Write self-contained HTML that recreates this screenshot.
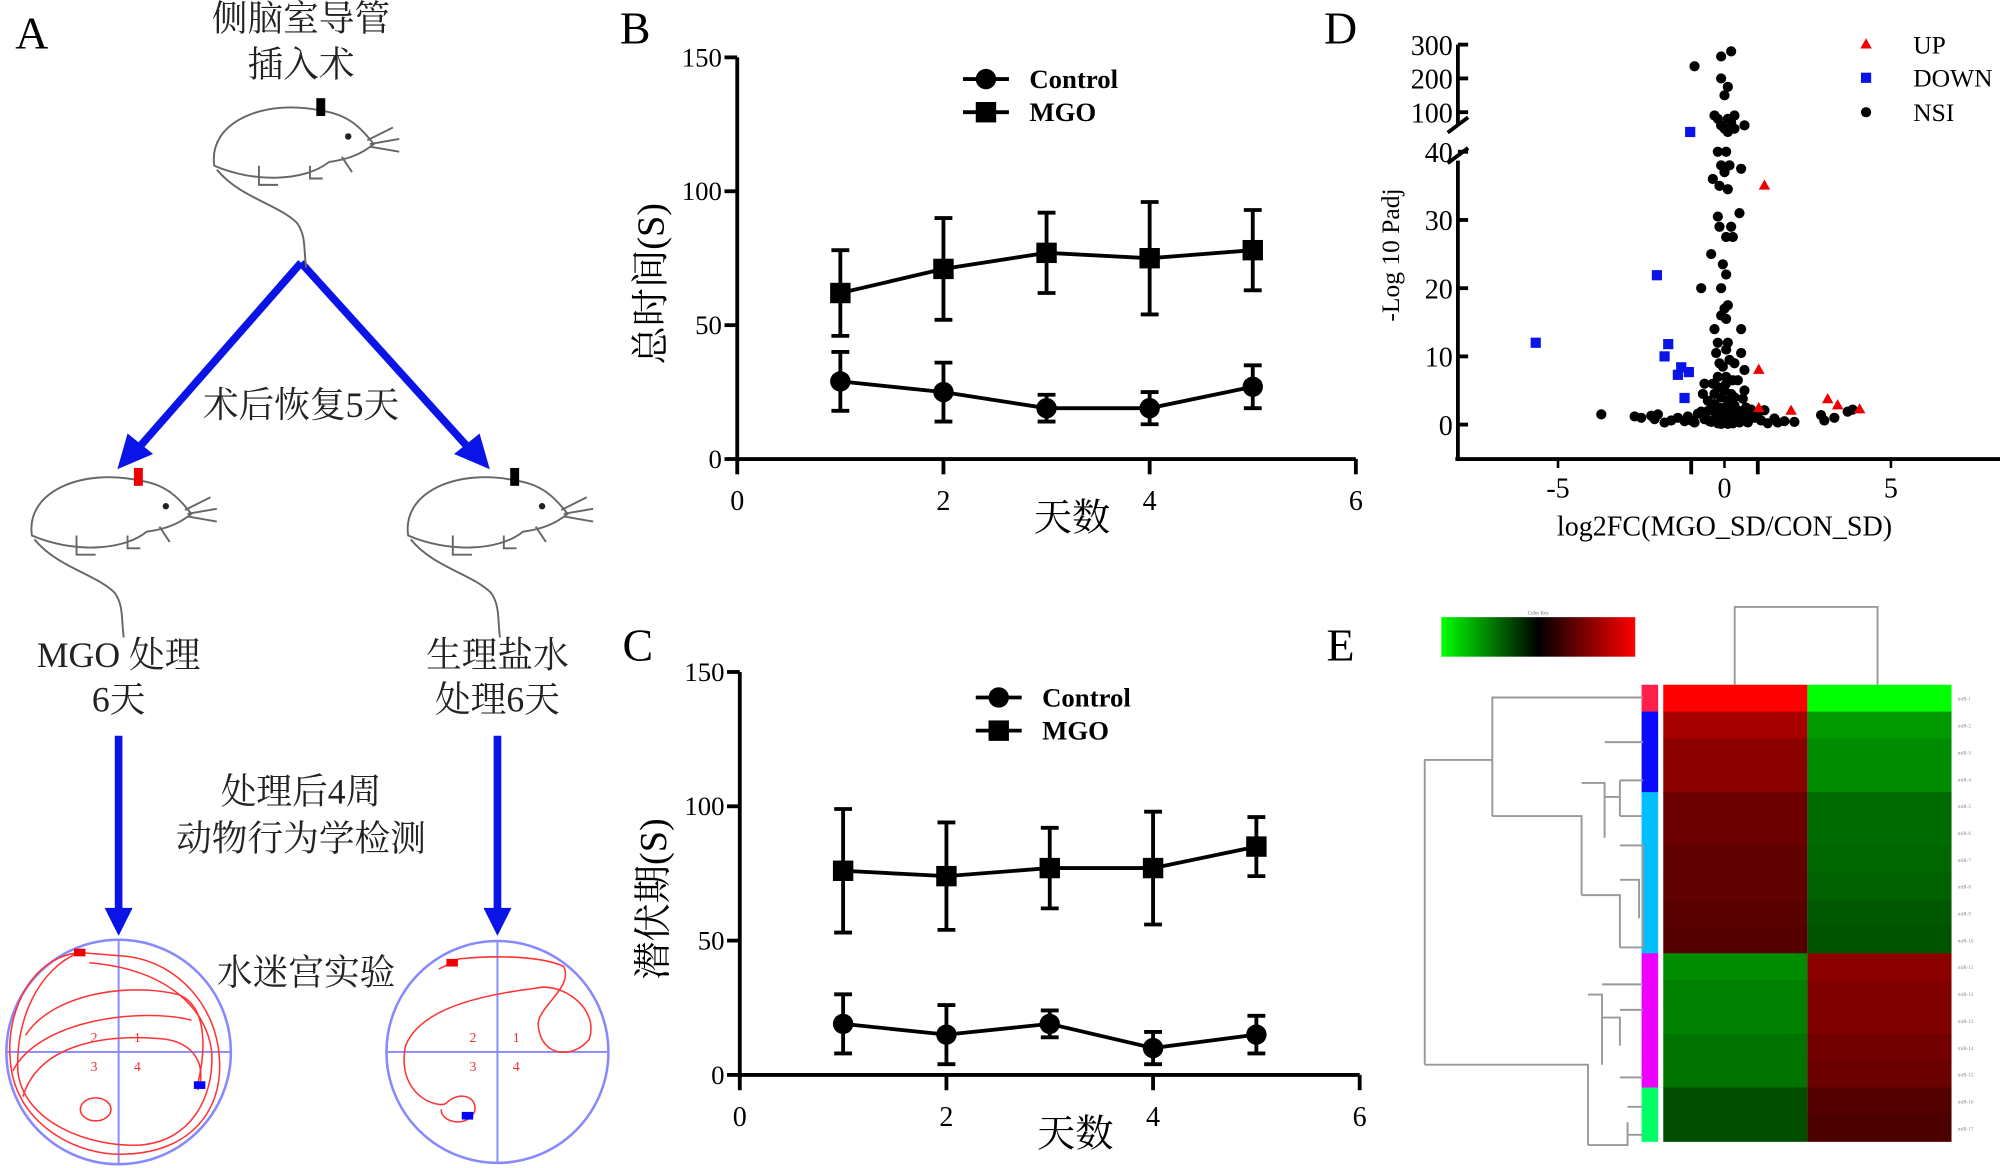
<!DOCTYPE html>
<html><head><meta charset="utf-8">
<style>
html,body{margin:0;padding:0;background:#fff;}
svg{display:block;}
text{font-family:"Liberation Serif","Noto Serif CJK SC",serif;}
.cjk{font-family:"Liberation Serif","Noto Serif CJK SC","Noto Sans CJK SC",serif;}
</style></head>
<body>
<svg id="fig" width="2000" height="1168" viewBox="0 0 1568 916" preserveAspectRatio="none" xmlns="http://www.w3.org/2000/svg">
<rect width="1568" height="916" fill="#fff"/>
<text x="12" y="38" font-size="36">A</text>
<text x="486" y="34" font-size="36">B</text>
<text x="488" y="518" font-size="36">C</text>
<text x="1038" y="34" font-size="36">D</text>
<text x="1040" y="518" font-size="36">E</text>

<g id="panelA" fill="#222">
<text class="cjk" x="236" y="24" font-size="28" text-anchor="middle">侧脑室导管</text>
<text class="cjk" x="236" y="60" font-size="28" text-anchor="middle">插入术</text>
<text class="cjk" x="236" y="327" font-size="28" text-anchor="middle">术后恢复5天</text>
<text class="cjk" x="93" y="523" font-size="28" text-anchor="middle">MGO 处理</text>
<text class="cjk" x="93" y="558" font-size="28" text-anchor="middle">6天</text>
<text class="cjk" x="390" y="523" font-size="28" text-anchor="middle">生理盐水</text>
<text class="cjk" x="390" y="558" font-size="28" text-anchor="middle">处理6天</text>
<text class="cjk" x="236" y="630" font-size="28" text-anchor="middle">处理后4周</text>
<text class="cjk" x="236" y="667" font-size="28" text-anchor="middle">动物行为学检测</text>
<text class="cjk" x="240" y="772" font-size="28" text-anchor="middle">水迷宫实验</text>
<g stroke="#0a14e6" stroke-width="6" fill="#0a14e6">
<line x1="236" y1="206" x2="108" y2="352"/>
<polygon points="92,368 100,340 120,356" stroke="none"/>
<line x1="236" y1="206" x2="368" y2="352"/>
<polygon points="384,368 356,356 376,340" stroke="none"/>
<line x1="93" y1="577" x2="93" y2="715"/>
<polygon points="82,712 104,712 93,734" stroke="none"/>
<line x1="390" y1="577" x2="390" y2="715"/>
<polygon points="379,712 401,712 390,734" stroke="none"/>
</g>
</g>

<g id="panelB"></g>
<g id="panelC"></g>
<g id="panelD"></g>
<g id="panelE"></g>
</svg>
<script>
// ---- Panel B data ----
const daysB = [1,2,3,4,5];
const mgoB = [62,71,77,75,78];
const mgoErrB = [16,19,15,21,15];
const ctrlB = [29,25,19,19,27];
const ctrlErrB = [11,11,5,6,8];
// ---- Panel C data ----
const daysC = [1,2,3,4,5];
const mgoC = [76,74,77,77,85];
const mgoErrC = [23,20,15,21,11];
const ctrlC = [19,15,19,10,15];
const ctrlErrC = [11,11,5,6,7];
const xTicksBC = [0,2,4,6];
const yTicksBC = [0,50,100,150];
// ---- Panel D data ----
const volcXTicks = [-5,0,5];
const volcYTicksLow = [0,10,20,30,40];
const volcYTicksHigh = [100,200,300];
const upX = [1.2,1.03,1.03,2.0,3.1,3.4,4.06];
const upY = [35,8,2.4,2,3.7,2.8,2.2];
const downX = [-5.67,-2.03,-1.69,-1.8,-1.3,-1.4,-1.07,-1.2,-1.03];
const downY = [12,21.9,11.8,10,8.4,7.3,7.7,3.9,70];
const nsiX = [-0.9,-0.1,0.2,-0.1,0.1,0,-0.3,-0.2,0.1,0.3,0.2,0.6,-0.1,0.3,0.1,0,
 -0.2,0.05,-0.1,0.15,0.5,-0.35,0,-0.15,0.1,0.45,-0.2,-0.15,0.2,0.05,0.25,-0.4,-0.05,0.05,-0.7,-0.1,0,0.1,-0.1,0.05,-0.3,0.5,-0.2,0.1,-0.25,0.05,0.5,-0.15,0.3,0.6,-0.2,0.05,0.4,-0.6,0.6,-0.65,0,0.2,
 -3.7,-2.7,-2.5,-2.2,-2,-2.1,-1.8,-1.6,-1.4,-1.2,-1.1,-0.9,-0.8,-0.6,-0.5,-0.4,-0.3,-0.25,-0.2,-0.15,-0.1,-0.05,0,0.05,0.1,0.15,0.2,0.25,0.3,0.35,0.4,0.45,0.5,0.6,0.7,0.8,0.9,1.1,1.3,1.5,1.6,1.8,2.1,2.9,3,3.3,3.7,3.85,
 -0.5,0.55,-0.35,0.25,-0.05,0.15,-0.4,0.65,-0.7,1.0,1.2,-1,0.1,-0.1,0,0,0.05,-0.3,0.3,-0.2,0.2,-0.1,0.1,0.4,-0.45,0.35,-0.25,0.15,-0.05,0.25,-0.15,0.45,-0.55,0.7];
const nsiY = [236,265,280,200,175,150,95,90,90,95,85,80,80,75,70,75,
 40,40,38,38,37.5,36,37,35,34.5,31,30.5,29,29,27.5,27.5,25,23.5,22,20,20,17,17.5,16,15.5,14,14,12,12,10.5,11,10.5,9,9,8,7,7,6.5,6,5,4.5,5,4.5,
 1.5,1.2,1,1.3,1.5,0.8,0.3,0.6,1,0.5,1.2,0.3,1.6,0.8,2,0.4,3,1.5,0.2,2.5,4,1,0.3,2,3.5,0.8,1.8,0.2,2.8,1.2,0.5,2,0.9,1.5,0.3,2.2,1,0.6,0.2,0.9,0.3,0.5,0.4,1.4,0.6,1,1.9,2.2,
 3.5,3.8,6,6.5,8.5,9.5,2.2,2.5,1.9,1.6,2.1,0.6,0.1,0.1,1.5,2.5,6,4.5,4,5.5,3,2,1,1.5,0.5,0.8,1.2,0.4,0.6,0.2,0.7,0.3,0.9,1.1];
// ---- Panel E data ----
const heatRows = ["miR-1","miR-2","miR-3","miR-4","miR-5","miR-6","miR-7","miR-8","miR-9","miR-10","miR-11","miR-12","miR-13","miR-14","miR-15","miR-16","miR-17"];
const heatCol1 = [1.0,0.65,0.55,0.55,0.42,0.42,0.38,0.38,0.35,0.33,-0.55,-0.5,-0.5,-0.45,-0.45,-0.3,-0.3];
const heatCol2 = [-1.0,-0.6,-0.55,-0.55,-0.42,-0.42,-0.4,-0.38,-0.35,-0.33,0.55,0.5,0.5,0.45,0.42,0.32,0.3];
const rowGroups = [0,1,1,1,2,2,2,2,2,2,3,3,3,3,3,4,4];
const groupColors = ["#ff1f4b","#0a0aff","#00bfff","#ee00ff","#00ff66"];

const NS="http://www.w3.org/2000/svg";
function mk(parent,tag,attrs){const e=document.createElementNS(NS,tag);for(const k in attrs)e.setAttribute(k,attrs[k]);parent.appendChild(e);return e;}

function lineChart(gid,ax,legendY,legendX,ylabel,days,mgo,mgoErr,ctrl,ctrlErr){
  const g=document.getElementById(gid);
  const sx=v=>ax.x0+(v-0)/6*(ax.x1-ax.x0);
  const sy=v=>ax.y0-(v/150)*(ax.y0-ax.y1);
  const yaxis=mk(g,'line',{x1:ax.x0,y1:ax.y1,x2:ax.x0,y2:ax.y0+2,stroke:'#000','stroke-width':3});
  
  
  const xaxis=mk(g,'line',{x1:ax.x0-2,y1:ax.y0,x2:ax.x1,y2:ax.y0,stroke:'#000','stroke-width':3});
  
  
  yTicksBC.forEach(v=>{
    const t=mk(g,'line',{x1:ax.x0-10,y1:sy(v),x2:ax.x0,y2:sy(v),stroke:'#000','stroke-width':3});
    
    
    const l=mk(g,'text',{x:ax.x0-12,y:sy(v)+7,'font-size':21,'text-anchor':'end'});l.textContent=v;
    
    
  });
  xTicksBC.forEach(v=>{
    const t=mk(g,'line',{x1:sx(v),y1:ax.y0,x2:sx(v),y2:ax.y0+12,stroke:'#000','stroke-width':3});
    
    
    const l=mk(g,'text',{x:sx(v),y:ax.y0+40,'font-size':22,'text-anchor':'middle'});l.textContent=v;
    
    
  });
  const xl=mk(g,'text',{x:(ax.x0+ax.x1)/2+20,y:ax.y0+56,'font-size':30,'text-anchor':'middle',class:'cjk'});xl.textContent='天数';
  
  
  const yl=mk(g,'text',{x:0,y:0,'font-size':30,'text-anchor':'middle',class:'cjk',transform:`translate(${ax.x0-58},${(ax.y0+ax.y1)/2+20}) rotate(-90)`});yl.textContent=ylabel;
  
  
  [[mgo,mgoErr,'square','mgo'],[ctrl,ctrlErr,'circle','control']].forEach(([vals,errs,shape,nm])=>{
    const pts=days.map((d,i)=>sx(d)+','+sy(vals[i])).join(' ');
    const pl=mk(g,'polyline',{points:pts,fill:'none',stroke:'#000','stroke-width':3});
    
    
    days.forEach((d,i)=>{
      const x=sx(d),yt=sy(vals[i]+errs[i]),yb=sy(vals[i]-errs[i]);
      const eb=mk(g,'path',{d:`M${x},${yt}V${yb}M${x-7},${yt}H${x+7}M${x-7},${yb}H${x+7}`,stroke:'#000','stroke-width':3,fill:'none'});
      
      
      let m;
      if(shape==='square') m=mk(g,'rect',{x:x-8,y:sy(vals[i])-8,width:16,height:16,fill:'#000'});
      else m=mk(g,'circle',{cx:x,cy:sy(vals[i]),r:8,fill:'#000'});
      
      
    });
  });
  [['Control','circle',0],['MGO','square',26]].forEach(([lab,shape,dy])=>{
    const y=legendY+dy;
    const ll=mk(g,'line',{x1:legendX,y1:y,x2:legendX+36,y2:y,stroke:'#000','stroke-width':3});
    
    
    let m;
    if(shape==='square') m=mk(g,'rect',{x:legendX+10,y:y-8,width:16,height:16,fill:'#000'});
    else m=mk(g,'circle',{cx:legendX+18,cy:y,r:8,fill:'#000'});
    
    
    const t=mk(g,'text',{x:legendX+52,y:y+7,'font-size':21,'font-weight':'bold'});t.textContent=lab;
    
    
  });
}
lineChart('panelB',{x0:578,x1:1063,y0:360,y1:45},62,755,'总时间(S)',daysB,mgoB,mgoErrB,ctrlB,ctrlErrB);
lineChart('panelC',{x0:580,x1:1066,y0:843,y1:527},547,765,'潜伏期(S)',daysC,mgoC,mgoErrC,ctrlC,ctrlErrC);

(function(){
  const g=document.getElementById('panelD');
  const X0=1143,XR=1568,Y0=360;
  const sx=v=>1352+v*26.1;
  const sy=v=>{ if(v<=40) return 333-v*5.35; if(v<=100) return 119-(v-40)/60*31; return 88-(v-100)*0.265; };
  const ya=mk(g,'path',{d:`M${X0},35V98M${X0},126V${Y0}`,stroke:'#000','stroke-width':3,fill:'none'});
  
  
  const br=mk(g,'path',{d:`M${X0-8},104L${X0+8},92M${X0-8},128L${X0+8},116`,stroke:'#000','stroke-width':3});
  
  
  const xa=mk(g,'line',{x1:X0-2,y1:Y0,x2:XR,y2:Y0,stroke:'#000','stroke-width':3});
  
  
  volcYTicksLow.concat(volcYTicksHigh).forEach(v=>{
    const t=mk(g,'line',{x1:X0,y1:sy(v),x2:X0+8,y2:sy(v),stroke:'#000','stroke-width':3});
    
    
    const l=mk(g,'text',{x:X0-4,y:sy(v)+8,'font-size':22,'text-anchor':'end'});l.textContent=v;
    
    
  });
  volcXTicks.forEach(v=>{
    const t=mk(g,'line',{x1:sx(v),y1:Y0,x2:sx(v),y2:Y0+7,stroke:'#000','stroke-width':2});
    
    
    const l=mk(g,'text',{x:sx(v),y:Y0+30,'font-size':22,'text-anchor':'middle'});l.textContent=v;
    
    
  });
  [-1,1].forEach(v=>{
    const t=mk(g,'line',{x1:sx(v),y1:Y0,x2:sx(v),y2:Y0+12,stroke:'#000','stroke-width':3});
    
    
  });
  const xl=mk(g,'text',{x:1352,y:420,'font-size':22,'text-anchor':'middle'});xl.textContent='log2FC(MGO_SD/CON_SD)';
  
  
  const yl=mk(g,'text',{x:0,y:0,'font-size':20,'text-anchor':'middle',transform:'translate(1097,200) rotate(-90)'});yl.textContent='-Log 10 Padj';
  
  
  nsiX.forEach((x,i)=>{
    const c=mk(g,'circle',{cx:sx(x),cy:sy(nsiY[i]),r:4,fill:'#000'});
    
    
  });
  downX.forEach((x,i)=>{
    const c=mk(g,'rect',{x:sx(x)-4,y:sy(downY[i])-4,width:8,height:8,fill:'#0a14e6'});
    
    
  });
  upX.forEach((x,i)=>{
    const X=sx(x),Y=sy(upY[i]);
    const c=mk(g,'polygon',{points:`${X},${Y-5} ${X-4.5},${Y+3} ${X+4.5},${Y+3}`,fill:'#e00'});
    
    
  });
  [['UP',35],['DOWN',61],['NSI',88]].forEach(([lab,y],i)=>{
    let m;
    if(i===0) m=mk(g,'polygon',{points:`1463,${y-5} 1458.5,${y+3} 1467.5,${y+3}`,fill:'#e00'});
    else if(i===1) m=mk(g,'rect',{x:1459,y:y-4,width:8,height:8,fill:'#0a14e6'});
    else m=mk(g,'circle',{cx:1463,cy:y,r:4,fill:'#000'});
    
    
    const t=mk(g,'text',{x:1500,y:y+7,'font-size':20});t.textContent=lab;
    
    
  });
})();

(function(){
  const g=document.getElementById('panelE');
  const col=v=>{ if(v>=0){return `rgb(${Math.round(255*v)},0,0)`;} return `rgb(0,${Math.round(255*-v)},0)`; };
  const XL=1304,XM=1417,XR=1530,YT=537,RH=(895-537)/heatRows.length;
  const defs=mk(g,'defs',{});
  const lg=mk(defs,'linearGradient',{id:'ck',x1:0,x2:1,y1:0,y2:0});
  mk(lg,'stop',{offset:'0',  'stop-color':'#00ff00'});
  mk(lg,'stop',{offset:'0.5','stop-color':'#000'});
  mk(lg,'stop',{offset:'1',  'stop-color':'#ff0000'});
  const ck=mk(g,'rect',{x:1130,y:484,width:152,height:31,fill:'url(#ck)'});
  
  
  const ckt=mk(g,'text',{x:1206,y:482,'font-size':4,'text-anchor':'middle',fill:'#666'});ckt.textContent='Color Key';
  
  
  heatRows.forEach((name,i)=>{
    const y=YT+i*RH;
    const a=mk(g,'rect',{x:XL,y:y,width:XM-XL,height:RH+0.5,fill:col(heatCol1[i])});
    
    
    const b=mk(g,'rect',{x:XM,y:y,width:XR-XM,height:RH+0.5,fill:col(heatCol2[i])});
    
    
    const s=mk(g,'rect',{x:1287,y:y,width:13,height:RH+0.5,fill:groupColors[rowGroups[i]]});
    
    
    const t=mk(g,'text',{x:1535,y:y+RH/2+2,'font-size':4,fill:'#888'});t.textContent=name;
    
    
  });
  const dg=mk(g,'path',{fill:'none',stroke:'#999','stroke-width':1.5,
    d:`M1360,537V476H1472V537
       M1288,547H1170V640 M1170,596H1117V835 M1170,640H1240V702
       M1240,614H1258V657 M1258,582H1288 M1258,625H1270V612V640 M1270,612H1288M1270,640H1288
       M1240,702H1270V743 M1270,663H1288V743 M1270,690H1285V720 M1270,743H1288
       M1117,835H1245V898 M1245,780H1256V835 M1256,772H1288 M1256,798H1270V820 M1270,792H1288M1270,845H1288
       M1245,898H1276V880 M1276,868H1288M1276,890H1288`});
  
  
})();

(function(){
  const g=document.getElementById('panelA');
  function mouse(cx,cy,capColor,nm){
    const m=mk(g,'g',{transform:`translate(${cx},${cy})`,fill:'none',stroke:'#666','stroke-width':1.5});
    
    
    mk(m,'path',{d:'M-60,15 C-65,-20 -20,-38 25,-28 C45,-25 55,-15 65,-2 C55,6 45,10 30,12 C10,28 -30,28 -60,15 Z',fill:'#fff'});
    mk(m,'path',{d:'M-58,18 C-40,40 -10,45 5,60 C12,70 10,80 12,95'});
    mk(m,'path',{d:'M-25,15 V30 H-10 M15,15 V25 H25 M40,8 L48,20'});
    mk(m,'circle',{cx:45,cy:-8,r:2.5,fill:'#222',stroke:'none'});
    mk(m,'path',{d:'M62,-2 L85,-6 M62,0 L85,4 M60,-5 L80,-15'});
    mk(m,'rect',{x:20,y:-38,width:7,height:14,fill:capColor,stroke:'none'});
  }
  mouse(228,115,'#000','mouse-surgery');
  mouse(85,405,'#e00','mouse-mgo');
  mouse(380,405,'#000','mouse-saline');
  function maze(cx,cy,r,paths,redPos,bluePos,nm){
    const m=mk(g,'g',{});
    
    
    mk(m,'circle',{cx:cx,cy:cy,r:r,fill:'none',stroke:'#88f','stroke-width':2});
    mk(m,'path',{d:`M${cx-r},${cy}H${cx+r}M${cx},${cy-r}V${cy+r}`,stroke:'#88f','stroke-width':1.5});
    paths.forEach(d=>mk(m,'path',{d:d,fill:'none',stroke:'#f33','stroke-width':1.2}));
    [['2',-22,-8],['1',12,-8],['3',-22,15],['4',12,15]].forEach(([t,dx,dy])=>{
      const tx=mk(m,'text',{x:cx+dx,y:cy+dy,'font-size':11,fill:'#e33','font-family':'Liberation Sans, sans-serif'});tx.textContent=t;
    });
    mk(m,'rect',{x:redPos[0],y:redPos[1],width:9,height:6,fill:'#e00'});
    mk(m,'rect',{x:bluePos[0],y:bluePos[1],width:9,height:6,fill:'#00f'});
  }
  maze(93,825,88,[
    'M62,747 C20,752 5,800 8,830 C10,880 60,908 100,905 C150,903 175,870 172,830 C170,790 140,755 100,750 Z',
    'M62,747 C30,760 12,800 14,840 C18,880 70,900 110,898 C150,895 168,860 166,825 C162,790 130,760 70,755',
    'M20,812 C40,780 100,770 140,780 C165,790 160,830 155,850',
    'M10,840 C30,800 110,790 150,800',
    'M18,860 C30,820 80,810 130,815 C160,820 160,845 155,855',
    'M63,870 a12,9 0 1,0 24,0 a12,9 0 1,0 -24,0'
  ],[58,744],[152,848],'water-maze-mgo');
  maze(390,825,87,[
    'M344,760 L360,752 C400,748 430,752 442,758 C450,775 420,790 422,805 C425,830 450,830 462,815 C470,790 440,770 420,775 C380,780 330,790 318,820 C310,860 345,870 350,865 C360,855 375,860 372,872 C366,885 345,880 346,870'
  ],[350,752],[362,872],'water-maze-saline');
})();
</script>
</body></html>
